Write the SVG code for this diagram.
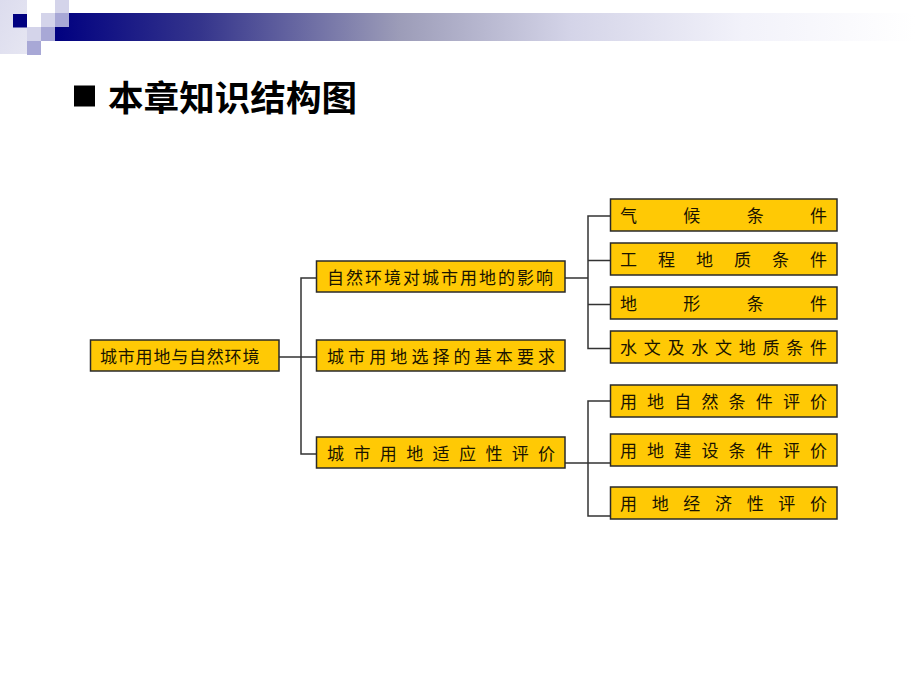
<svg xmlns="http://www.w3.org/2000/svg" width="920" height="690" viewBox="0 0 920 690">
<style>
.b{fill:#ffc905;stroke:#2a2a2a;stroke-width:1.5}
.t{font-family:"Noto Sans CJK SC","Liberation Sans",sans-serif;font-size:17px;font-weight:400;fill:#1a1400}
.c{fill:none;stroke:#333;stroke-width:1.500}
.title{font-family:"Noto Sans CJK SC","Liberation Sans",sans-serif;font-size:35.600px;font-weight:700;fill:#000}
</style>
<defs>
<linearGradient id="bar" gradientUnits="userSpaceOnUse" x1="55" y1="0" x2="915" y2="0">
<stop offset="0" stop-color="#000080"/>
<stop offset="0.17" stop-color="#35358c"/>
<stop offset="0.4" stop-color="#9c9cb8"/>
<stop offset="0.6" stop-color="#d4d4e8"/>
<stop offset="0.8" stop-color="#f2f2fa"/>
<stop offset="1" stop-color="#fff"/>
</linearGradient>
<linearGradient id="side" x1="0" y1="0" x2="1" y2="1">
<stop offset="0" stop-color="#dcdcee"/>
<stop offset="1" stop-color="#e6e6f2"/>
</linearGradient>
</defs>
<rect width="920" height="690" fill="#fff"/>
<g id="header">
<rect x="55" y="13" width="865" height="28" fill="url(#bar)"/>
<rect x="0" y="0" width="27" height="54" fill="url(#side)"/>
<rect x="13" y="14" width="14" height="13.500" fill="#000080"/>
<rect x="27" y="27" width="14" height="14" fill="#d4d4ea"/>
<rect x="27" y="41" width="14" height="14" fill="#a8a8d6"/>
<rect x="41" y="13" width="14" height="14" fill="#d4d4ea"/>
<rect x="41" y="27" width="14" height="14" fill="#a8a8d6"/>
<rect x="55" y="0" width="14" height="13" fill="#d4d4ea"/>
<rect x="55" y="13" width="14" height="14" fill="#a8a8d6"/>
</g>
<g id="title">
<rect x="74" y="85.500" width="21" height="21" fill="#000"/>
<text class="title" x="108" y="111">本章知识结构图</text>
</g>
<g id="connectors">
<path class="c" d="M279 357H316M316 278H301V454H316"/>
<path class="c" d="M565 278H588M610 216H588V348.500H610M588 260.500H610M588 304.500H610"/>
<path class="c" d="M565 463H610M610 401H588V516H610"/>
</g>
<g id="n-root"><rect class="b" x="90.500" y="340" width="188.500" height="31"/><text class="t" y="362.500" x="100 117.800 135.600 153.400 171.200 189 206.800 224.600 242.400">城市用地与自然环境</text></g>
<g id="n-m1"><rect class="b" x="316.500" y="261" width="248.500" height="31"/><text class="t" y="283.500" x="327 346 365 384 403 422 441 460 479 498 517 536">自然环境对城市用地的影响</text></g>
<g id="n-m2"><rect class="b" x="316.500" y="340" width="248.500" height="31"/><text class="t" y="362.500" x="327 348.100 369.200 390.300 411.400 432.500 453.600 474.700 495.800 516.900 538">城市用地选择的基本要求</text></g>
<g id="n-m3"><rect class="b" x="316.500" y="437" width="248.500" height="31"/><text class="t" y="459.500" x="327 353.400 379.800 406.200 432.600 459 485.400 511.800 538">城市用地适应性评价</text></g>
<g id="n-r1"><rect class="b" x="610.500" y="199" width="226.500" height="32"/><text class="t" y="222" x="620 683.300 746.700 810">气候条件</text></g>
<g id="n-r2"><rect class="b" x="610.500" y="243" width="226.500" height="32"/><text class="t" y="266" x="620 658 696 734 772 810">工程地质条件</text></g>
<g id="n-r3"><rect class="b" x="610.500" y="287" width="226.500" height="32"/><text class="t" y="310" x="620 683.300 746.700 810">地形条件</text></g>
<g id="n-r4"><rect class="b" x="610.500" y="331" width="226.500" height="32"/><text class="t" y="354" x="620 643.750 667.500 691.250 715 738.750 762.500 786.250 810">水文及水文地质条件</text></g>
<g id="n-r5"><rect class="b" x="610.500" y="385" width="226.500" height="32"/><text class="t" y="408" x="620 647.100 674.300 701.400 728.600 755.700 782.900 810">用地自然条件评价</text></g>
<g id="n-r6"><rect class="b" x="610.500" y="434" width="226.500" height="32"/><text class="t" y="457" x="620 647.100 674.300 701.400 728.600 755.700 782.900 810">用地建设条件评价</text></g>
<g id="n-r7"><rect class="b" x="610.500" y="487" width="226.500" height="32"/><text class="t" y="510" x="620 651.700 683.300 715 746.700 778.300 810">用地经济性评价</text></g>
</svg>
